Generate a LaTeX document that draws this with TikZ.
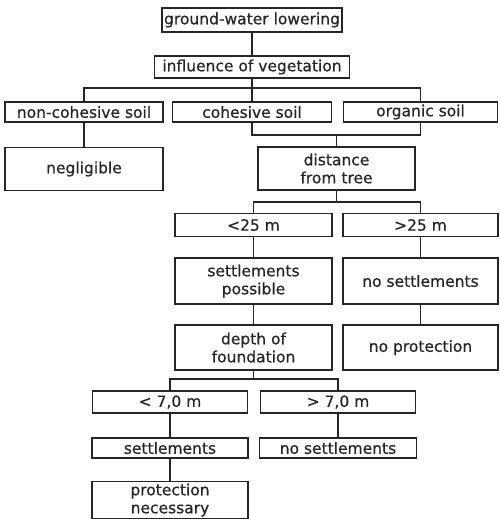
\documentclass[tikz,border=0pt]{standalone}
\usepackage{fontspec}
\newfontfamily\dinfont[FakeBold=0.6]{DejaVu Sans}
\tikzset{
  box/.style={draw, rectangle, line width=1.1pt, inner sep=1pt, align=center,
    font=\dinfont\fontsize{15.5}{18}\selectfont, text=black!85, draw=black!85},
  link/.style={line width=1.1pt, draw=black!85}
}
\begin{document}
\begin{tikzpicture}[x=1pt, y=-1pt]
\useasboundingbox (0,0) rectangle (499,519);
\node (lowering) [box, minimum width=180pt, minimum height=24pt] at (252,20) {ground-water lowering};
\node (vegetation) [box, minimum width=195pt, minimum height=22pt] at (252,67) {influence of vegetation};
\node (noncohesive) [box, minimum width=158pt, minimum height=20pt] at (84,112) {non-cohesive soil};
\node (cohesive) [box, minimum width=159pt, minimum height=20pt] at (252,112) {cohesive soil};
\node (organic) [box, minimum width=154pt, minimum height=20pt] at (420.5,112) {organic soil};
\node (negligible) [box, minimum width=158pt, minimum height=43pt] at (84,169) {negligible};
\node (distance) [box, minimum width=157pt, minimum height=43pt] at (336.5,168.5) {distance\\from tree};
\node (near) [box, minimum width=157pt, minimum height=23pt] at (253.5,225) {<25 m};
\node (far) [box, minimum width=155pt, minimum height=23pt] at (420.5,225) {>25 m};
\node (possible) [box, minimum width=157pt, minimum height=46pt] at (253.5,281) {settlements\\possible};
\node (nosettle) [box, minimum width=155pt, minimum height=46pt] at (420.5,281) {no settlements};
\node (depth) [box, minimum width=157pt, minimum height=45pt] at (253.5,347.5) {depth of\\foundation};
\node (noprotect) [box, minimum width=155pt, minimum height=45pt] at (420.5,347.5) {no protection};
\node (shallow) [box, minimum width=155pt, minimum height=22pt] at (170,402) {< 7,0 m};
\node (deep) [box, minimum width=155pt, minimum height=22pt] at (338,402) {> 7,0 m};
\node (settle) [box, minimum width=156pt, minimum height=20pt] at (170,448) {settlements};
\node (nosettleb) [box, minimum width=157pt, minimum height=20pt] at (338,448) {no settlements};
\node (protect) [box, minimum width=156pt, minimum height=37pt] at (170,500) {protection\\necessary};

\coordinate (soilfork) at (252,88);
\coordinate (soiljoin) at (336.5,135);
\coordinate (treefork) at (336.5,202);
\coordinate (depthfork) at (253.5,379);

\draw [link] (lowering) -- (vegetation);
\draw [link] (vegetation.south) -- (soilfork);
\draw [link] (noncohesive.north) |- (soilfork) -| (organic.north);
\draw [link] (soilfork) -- (cohesive.north);
\draw [link] (noncohesive) -- (negligible);
\draw [link] (cohesive.south) |- (soiljoin) -| (organic.south);
\draw [link] (soiljoin) -- (distance.north);
\draw [link] (distance.south) -- (treefork);
\draw [link] (near.north) |- (treefork) -| (far.north);
\draw [link] (near) -- (possible);
\draw [link] (far) -- (nosettle);
\draw [link] (possible) -- (depth);
\draw [link] (nosettle) -- (noprotect);
\draw [link] (depth.south) -- (depthfork);
\draw [link] (shallow.north) |- (depthfork) -| (deep.north);
\draw [link] (shallow) -- (settle);
\draw [link] (deep) -- (nosettleb);
\draw [link] (settle) -- (protect);
\end{tikzpicture}
\end{document}
